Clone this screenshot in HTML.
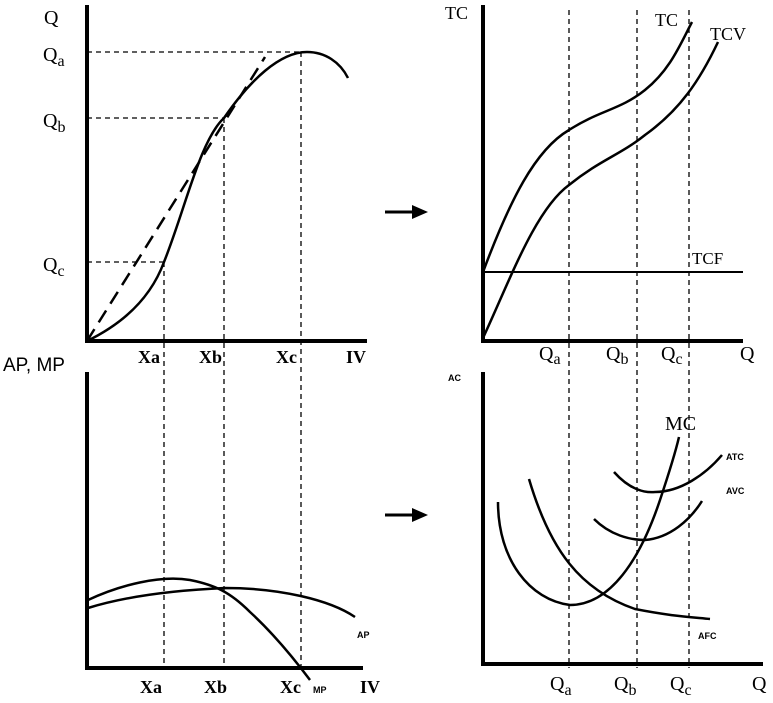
<!DOCTYPE html>
<html><head><style>body{margin:0;background:#fff}svg{display:block}</style></head><body>
<svg width="773" height="703" viewBox="0 0 773 703" xmlns="http://www.w3.org/2000/svg" font-family="Liberation Serif, serif">
<g stroke="#000" fill="none">
<path d="M87 5V341H367" stroke-width="4"/>
<g stroke-width="1.3" stroke-dasharray="5,4">
<path d="M87 52H301M87 118H224M87 262H164"/>
<path d="M164 262V668M224 118V668M301 52V668"/>
</g>
<path d="M87 341C120 325 150 300 164 262C185 210 200 140 224 118C250 80 280 52 307 52C325 52 340 62 348 78" stroke-width="2.5"/>
<path d="M87 341L265 57" stroke-width="2.5" stroke-dasharray="14,8"/>
<path d="M87 372V668H363" stroke-width="4"/>
<path d="M88 600C120 585 160 575 190 580C215 585 230 592 250 612C275 635 295 660 310 680" stroke-width="2.5"/>
<path d="M88 608C130 595 180 590 225 588C280 588 330 600 355 617" stroke-width="2.5"/>
<path d="M385 212H415M385 515H415" stroke-width="3"/>
<path d="M483 5V341H743" stroke-width="4"/>
<g stroke-width="1.3" stroke-dasharray="5,4">
<path d="M569 10V668M637 10V668M689 10V668"/>
</g>
<path d="M483 272H743" stroke-width="2"/>
<path d="M483 272C510 200 535 150 569 130C600 110 620 110 645 90C670 70 680 45 692 22" stroke-width="2.5"/>
<path d="M483 338C510 280 535 210 569 185C600 160 620 155 645 135C680 110 700 80 718 42" stroke-width="2.5"/>
<path d="M483 372V664H763" stroke-width="4"/>
<path d="M498 502C498 560 530 600 570 605C610 605 640 560 660 500C670 470 676 450 679 437" stroke-width="2.5"/>
<path d="M529 479C550 550 580 590 635 609C670 616 690 617 710 619" stroke-width="2.5"/>
<path d="M614 472C630 490 645 493 655 492C680 492 705 475 722 455" stroke-width="2.5"/>
<path d="M594 519C610 535 630 540 645 540C670 538 690 520 702 501" stroke-width="2.5"/>
</g>
<polygon points="428,212 412,205 412,219" fill="#000"/>
<polygon points="428,515 412,508 412,522" fill="#000"/>
<g font-size="20" fill="#000">
<text x="44" y="24">Q</text>
<text x="43" y="61">Q<tspan font-size="16" dy="5">a</tspan></text>
<text x="43" y="127">Q<tspan font-size="16" dy="5">b</tspan></text>
<text x="43" y="271">Q<tspan font-size="16" dy="5">c</tspan></text>
<g font-weight="bold" font-size="18">
<text x="138" y="363">Xa</text>
<text x="199" y="363">Xb</text>
<text x="276" y="363">Xc</text>
<text x="346" y="363">IV</text>
<text x="140" y="693">Xa</text>
<text x="204" y="693">Xb</text>
<text x="280" y="693">Xc</text>
<text x="360" y="693">IV</text>
</g>
<text x="3" y="371" font-family="Liberation Sans, sans-serif" font-size="19">AP, MP</text>
<text x="445" y="19" font-size="18">TC</text>
<text x="655" y="26" font-size="18">TC</text>
<text x="710" y="40" font-size="18">TCV</text>
<text x="692" y="264" font-size="17">TCF</text>
<text x="539" y="360">Q<tspan font-size="16" dy="4">a</tspan></text>
<text x="606" y="360">Q<tspan font-size="16" dy="4">b</tspan></text>
<text x="661" y="360">Q<tspan font-size="16" dy="4">c</tspan></text>
<text x="740" y="360">Q</text>
<text x="665" y="430">MC</text>
<text x="550" y="690">Q<tspan font-size="16" dy="5">a</tspan></text>
<text x="614" y="690">Q<tspan font-size="16" dy="5">b</tspan></text>
<text x="670" y="690">Q<tspan font-size="16" dy="5">c</tspan></text>
<text x="752" y="690">Q</text>
</g>
<g font-family="Liberation Sans, sans-serif" font-weight="bold" font-size="9" fill="#000">
<text x="357" y="638">AP</text>
<text x="313" y="693">MP</text>
<text x="448" y="381">AC</text>
<text x="726" y="460">ATC</text>
<text x="726" y="494">AVC</text>
<text x="698" y="639">AFC</text>
</g>
</svg>
</body></html>
